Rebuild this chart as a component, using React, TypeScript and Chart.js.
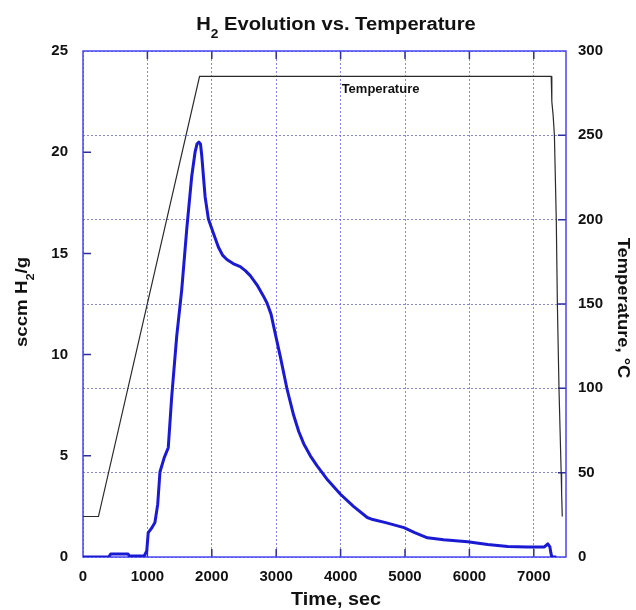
import React, { useEffect, useRef } from "react";
import { Chart, registerables } from "chart.js";

Chart.register(...registerables);

// ---- data ----
const h2Time = [0, 400, 430, 700, 720, 950, 990, 1013, 1060, 1117, 1160, 1195, 1260, 1324, 1377, 1455, 1533, 1611, 1688, 1740, 1770, 1800, 1825, 1845, 1870, 1896, 1947, 2025, 2103, 2170, 2234, 2330, 2441, 2520, 2597, 2701, 2800, 2857, 2920, 2960, 3064, 3168, 3271, 3350, 3427, 3530, 3635, 3800, 3998, 4200, 4414, 4500, 4700, 4984, 5150, 5349, 5600, 5972, 6284, 6595, 6900, 7165, 7217, 7250, 7265, 7280, 7350];
const h2Value = [0, 0, 0.15, 0.15, 0.05, 0.05, 0.3, 1.2, 1.4, 1.7, 2.6, 4.2, 4.9, 5.4, 7.9, 10.9, 13.2, 16.2, 18.8, 20.0, 20.4, 20.5, 20.4, 19.8, 18.8, 17.8, 16.7, 16.0, 15.3, 14.9, 14.7, 14.5, 14.35, 14.15, 13.9, 13.45, 12.9, 12.55, 12.0, 11.4, 9.9, 8.3, 7.0, 6.2, 5.6, 5.0, 4.5, 3.8, 3.1, 2.5, 1.95, 1.85, 1.7, 1.45, 1.2, 0.95, 0.85, 0.75, 0.62, 0.52, 0.5, 0.5, 0.65, 0.5, 0.2, 0.0, 0.0];

const tempTime = [0, 240, 1810, 7270, 7280, 7300, 7320, 7349, 7366, 7391, 7425, 7432, 7442];
const tempValue = [24, 24, 285, 285, 270, 262, 250, 200, 150, 100, 50, 38, 24];

const xTicks = [0, 1000, 2000, 3000, 4000, 5000, 6000, 7000];
const leftTicks = [0, 5, 10, 15, 20, 25];
const rightTicks = [0, 50, 100, 150, 200, 250, 300];

const titleParts = [
  { text: "H", sub: false },
  { text: "2", sub: true },
  { text: " Evolution vs. Temperature", sub: false },
];
const leftTitleParts = [
  { text: "sccm H", sub: false },
  { text: "2", sub: true },
  { text: "/g", sub: false },
];
const rightTitleParts = [{ text: "Temperature, °C", sub: false }];
const xTitleParts = [{ text: "Time, sec", sub: false }];
const annotationText = "Temperature";

const FAMILY = "'Liberation Sans', Arial, Helvetica, sans-serif";

type Part = { text: string; sub: boolean };

function drawRich(
  ctx: CanvasRenderingContext2D,
  parts: Part[],
  cx: number,
  cy: number,
  rotation: number,
  size: number,
  stretch: number
) {
  ctx.save();
  ctx.translate(cx, cy);
  ctx.rotate(rotation);
  ctx.scale(stretch, 1);
  ctx.fillStyle = "#111";
  ctx.textAlign = "left";
  ctx.textBaseline = "alphabetic";
  const subSize = size * 0.68;
  const widths = parts.map((p) => {
    ctx.font = `bold ${p.sub ? subSize : size}px ${FAMILY}`;
    return ctx.measureText(p.text).width;
  });
  const total = widths.reduce((a, b) => a + b, 0);
  let x = -total / 2;
  parts.forEach((p, i) => {
    ctx.font = `bold ${p.sub ? subSize : size}px ${FAMILY}`;
    ctx.fillText(p.text, x, p.sub ? size * 0.42 : 0);
    x += widths[i];
  });
  ctx.restore();
}

const framePlugin = {
  id: "frame",
  beforeDatasetsDraw(chart: any) {
    const { ctx, chartArea } = chart;
    const { left, right, top, bottom } = chartArea;
    const xs = chart.scales.x;
    const ys = chart.scales.y;
    const y1 = chart.scales.y1;
    ctx.save();
    // inward tick marks
    ctx.strokeStyle = "#2e2e9a";
    ctx.lineWidth = 1.5;
    ctx.beginPath();
    leftTicks.forEach((v) => {
      if (v === leftTicks[0] || v === leftTicks[leftTicks.length - 1]) return;
      const y = ys.getPixelForValue(v);
      ctx.moveTo(left, y);
      ctx.lineTo(left + 8, y);
    });
    rightTicks.forEach((v) => {
      if (v === rightTicks[0] || v === rightTicks[rightTicks.length - 1]) return;
      const y = y1.getPixelForValue(v);
      ctx.moveTo(right - 8, y);
      ctx.lineTo(right, y);
    });
    xTicks.forEach((v) => {
      if (v === xTicks[0]) return;
      const x = xs.getPixelForValue(v);
      ctx.moveTo(x, bottom);
      ctx.lineTo(x, bottom - 8);
      ctx.moveTo(x, top);
      ctx.lineTo(x, top + 8);
    });
    ctx.stroke();
    // frame
    ctx.strokeStyle = "#4646f0";
    ctx.lineWidth = 1.5;
    ctx.strokeRect(left, top, right - left, bottom - top);
    ctx.restore();
  },
  afterDraw(chart: any) {
    const { ctx } = chart;
    const xs = chart.scales.x;
    const y1 = chart.scales.y1;
    drawRich(ctx, titleParts, 336, 30, 0, 18, 1.12);
    drawRich(ctx, xTitleParts, 336, 605, 0, 18, 1.1);
    drawRich(ctx, leftTitleParts, 27, 302, -Math.PI / 2, 17, 1.1);
    drawRich(ctx, rightTitleParts, 618, 308, Math.PI / 2, 17, 1.08);
    // in-plot annotation
    ctx.save();
    ctx.font = `bold 13px ${FAMILY}`;
    ctx.fillStyle = "#111";
    ctx.textAlign = "center";
    ctx.textBaseline = "middle";
    ctx.fillText(annotationText, xs.getPixelForValue(4620), y1.getPixelForValue(277));
    ctx.restore();
  },
};

export default function App() {
  const canvasRef = useRef<HTMLCanvasElement | null>(null);

  useEffect(() => {
    const canvas = canvasRef.current;
    if (!canvas) return;
    const tickFont = { family: FAMILY, size: 15, weight: "bold" as const };
    const gridColor = "rgba(95, 95, 225, 0.75)";
    const chart = new Chart(canvas, {
      type: "line",
      data: {
        datasets: [
          {
            label: "H2",
            data: h2Time.map((t, i) => ({ x: t, y: h2Value[i] })),
            yAxisID: "y",
            borderColor: "#1a1ad2",
            borderWidth: 3,
            pointRadius: 0,
            tension: 0,
            borderJoinStyle: "round",
            fill: false,
          },
          {
            label: "Temperature",
            data: tempTime.map((t, i) => ({ x: t, y: tempValue[i] })),
            yAxisID: "y1",
            borderColor: "#2a2a2a",
            borderWidth: 1.2,
            pointRadius: 0,
            tension: 0,
            fill: false,
          },
        ],
      },
      options: {
        responsive: false,
        animation: false,
        events: [],
        layout: { padding: { top: 51, left: 0, right: 0, bottom: 0 } },
        plugins: {
          legend: { display: false },
          tooltip: { enabled: false },
          title: { display: false },
        },
        scales: {
          x: {
            type: "linear",
            min: 0,
            max: 7500,
            afterBuildTicks: (scale: any) => {
              scale.ticks = xTicks.map((v) => ({ value: v }));
            },
            afterFit: (scale: any) => {
              scale.height = 53;
            },
            ticks: {
              font: tickFont,
              color: "#111",
              padding: 11,
              maxRotation: 0,
              autoSkip: false,
              callback: (v: any) => String(v),
            },
            grid: { color: gridColor, lineWidth: 1, drawTicks: false },
            border: { display: false, dash: [2, 2] },
          },
          y: {
            type: "linear",
            position: "left",
            min: 0,
            max: 25,
            afterBuildTicks: (scale: any) => {
              scale.ticks = leftTicks.map((v) => ({ value: v }));
            },
            afterFit: (scale: any) => {
              scale.width = 83;
            },
            ticks: { font: tickFont, color: "#111", padding: 15, autoSkip: false },
            grid: { display: false, drawTicks: false },
            border: { display: false },
          },
          y1: {
            type: "linear",
            position: "right",
            min: 0,
            max: 300,
            afterBuildTicks: (scale: any) => {
              scale.ticks = rightTicks.map((v) => ({ value: v }));
            },
            afterFit: (scale: any) => {
              scale.width = 70;
            },
            ticks: { font: tickFont, color: "#111", padding: 12, autoSkip: false },
            grid: { color: gridColor, lineWidth: 1, drawTicks: false, drawOnChartArea: true },
            border: { display: false, dash: [2, 2] },
          },
        },
      },
      plugins: [framePlugin],
    } as any);
    return () => chart.destroy();
  }, []);

  return (
    <div style={{ position: "fixed", left: 0, top: 0, width: 636, height: 610, background: "#fff" }}>
      <canvas ref={canvasRef} width={636} height={610} style={{ display: "block", width: 636, height: 610 }} />
    </div>
  );
}
